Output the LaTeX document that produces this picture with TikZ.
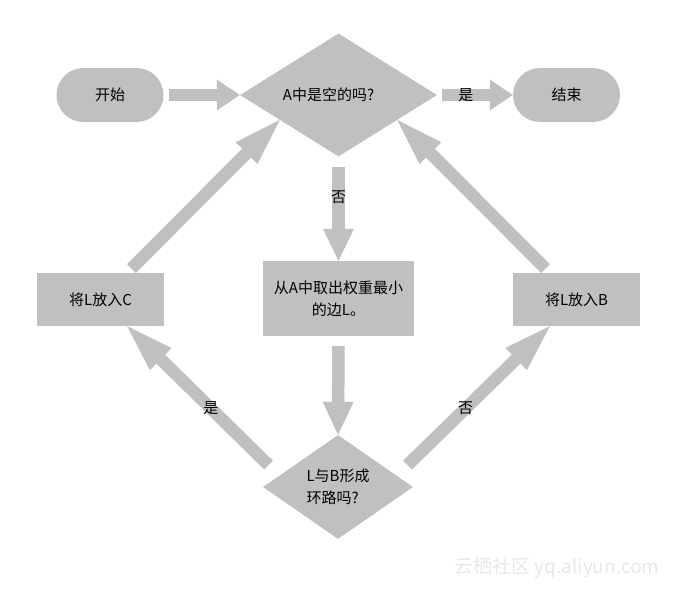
\documentclass[tikz,border=0pt]{standalone}
\usepackage{fontspec}
\setmainfont{Noto Sans CJK SC}
\usetikzlibrary{shapes.geometric,arrows.meta}
\definecolor{boxgray}{RGB}{192,192,192}
\begin{document}
\begin{tikzpicture}[x=1pt, y=-1pt, font=\fontsize{15pt}{22pt}\selectfont, line join=miter,
		term/.style={fill=boxgray, rounded corners=27pt, minimum width=107pt, minimum height=54pt},
		proc/.style={fill=boxgray, minimum width=127pt, minimum height=53pt, align=center},
		decide/.style={fill=boxgray, diamond, inner sep=0pt, align=left},
		flow/.style={draw=boxgray, line width=12.5pt, -{Triangle[width=31pt, length=#1, line width=0pt]}},
		flow/.default=23pt,
		lbl/.style={inner sep=0pt, text=black}]
		\useasboundingbox (0,0) rectangle (680,590);
		\def\ytop{95}
		% top row
		\node[term] (start) at (110,\ytop) {开始};
		\node[decide, minimum width=197pt, minimum height=123pt, aspect=1.6] (empty) at (338.5,\ytop) {A中是空的吗?\hspace*{20pt}};
		\node[term] (stop) at (566.5,\ytop) {结束};
		% middle row
		\node[proc, minimum width=151pt, minimum height=75pt] (pick) at (338.5,298.5) {从A中取出权重最小\\的边L。};
		\foreach \n/\x/\s in {putC/100.5/C, putB/576.5/B}
			\node[proc] (\n) at (\x,299.5) {将L放入\s};
		% bottom
		\node[decide, minimum width=150pt, minimum height=104pt, aspect=1.44] (cycle) at (338,487) {L与B形成\\环路吗?};
		% arrows
		\draw[flow, shorten <=5pt] (start.east) -- (empty.west);
		\draw[flow, shorten <=5pt] (empty.east) -- node[lbl, pos=.38]{是} (stop.west);
		\draw[flow=32pt, shorten <=10pt] (empty.south) -- node[lbl, pos=.39]{否} (pick.north);
		\draw[flow=33pt, shorten <=10pt] (pick.south) -- (cycle.north);
		\draw[flow=47pt, shorten <=15pt] (cycle.169) -- node[lbl, pos=.45]{是} (putC.-45);
		\draw[flow=47pt, shorten <=15pt] (cycle.11) -- node[lbl, pos=.45]{否} (putB.-135);
		\draw[flow=47pt, shorten <=6pt] (putC.45) -- (empty.-157);
		\draw[flow=47pt, shorten <=6pt] (putB.135) -- (empty.-23);
		\node[text=black!9, font=\fontsize{19pt}{19pt}\selectfont] (mark) at (557,568) {云栖社区 yq.aliyun.com};
	\end{tikzpicture}
\end{document}
